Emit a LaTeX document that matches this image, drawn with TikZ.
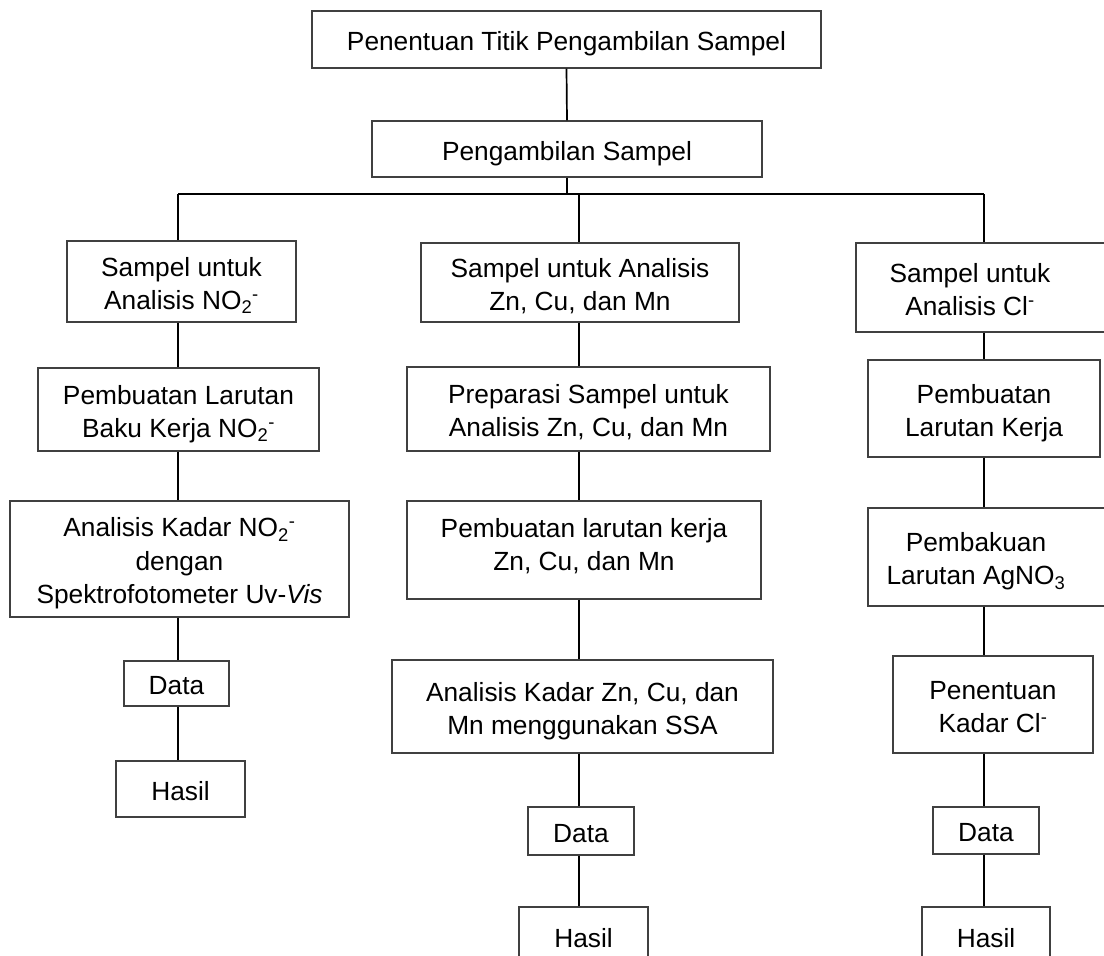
\documentclass[tikz,border=0pt]{standalone}
\usepackage{fontspec}
\setmainfont{Liberation Sans}
\newcommand{\mlines}[1]{\raisebox{-4.5pt}[\height][\depth]{\begin{tabular}{@{}c@{}}#1\end{tabular}}}
\newcommand{\NOtwo}{NO\textsubscript{2}\textsuperscript{-}}
\begin{document}
\begin{tikzpicture}[x=1pt,y=-1pt,
  box/.style={draw=black!75, line width=1.2pt, rectangle, inner sep=0pt,
    font=\fontsize{26.3}{33.3}\selectfont},
  conn/.style={line width=1.7pt, draw=black}]
\useasboundingbox (0,0) rectangle (1104,956);
\clip (0,0) rectangle (1104,956);
\fill[white] (0,0) rectangle (1104,956);

% top
\node[box, minimum width=509, minimum height=57] (T) at (566.5,39.5) {\mlines{Penentuan Titik Pengambilan Sampel}};
\node[box, minimum width=390, minimum height=56] (P) at (567,149) {\mlines{Pengambilan Sampel}};

% left column
\node[box, minimum width=229, minimum height=81] (L1) at (181.5,281.5) {\mlines{Sampel untuk\\Analisis \NOtwo}};
\node[box, minimum width=281, minimum height=83] (L2) at (178.5,409.5) {\mlines{Pembuatan Larutan\\Baku Kerja \NOtwo}};
\node[box, minimum width=339, minimum height=116] (L3) at (179.5,559) {\mlines{Analisis Kadar \NOtwo\\dengan\\Spektrofotometer Uv-\textit{Vis}}};
\node[box, minimum width=105, minimum height=45] (L4) at (176.5,683.5) {\mlines{Data}};
\node[box, minimum width=129, minimum height=56] (L5) at (180.5,789) {\mlines{Hasil}};

% middle column
\node[box, minimum width=318, minimum height=79] (M1) at (580,282.5) {\mlines{Sampel untuk Analisis\\Zn, Cu, dan Mn}};
\node[box, minimum width=363, minimum height=84] (M2) at (588.5,409) {\mlines{Preparasi Sampel untuk\\Analisis Zn, Cu, dan Mn}};
\node[box, minimum width=354, minimum height=98] (M3) at (584,550) {\mlines{Pembuatan larutan kerja\\Zn, Cu, dan Mn\\[14pt]}};
\node[box, minimum width=381, minimum height=93] (M4) at (582.5,706.5) {\mlines{Analisis Kadar Zn, Cu, dan\\Mn menggunakan SSA}};
\node[box, minimum width=106, minimum height=48] (M5) at (581,831) {\mlines{Data}};
\node[box, minimum width=129, minimum height=58] (M6) at (583.5,936) {\mlines{Hasil}};

% right column
\node[box, minimum width=254, minimum height=89] (R1) at (983,287.5) {\mlines{Sampel untuk\\Analisis Cl\textsuperscript{-}}\hspace*{26pt}};
\node[box, minimum width=232, minimum height=97] (R2) at (984,408.5) {\mlines{Pembuatan\\Larutan Kerja}};
\node[box, minimum width=242, minimum height=98] (R3) at (989,557) {\mlines{Pembakuan\\Larutan AgNO\textsubscript{3}}\hspace*{26pt}};
\node[box, minimum width=200, minimum height=97] (R4) at (993,704.5) {\mlines{Penentuan\\Kadar Cl\textsuperscript{-}}};
\node[box, minimum width=106, minimum height=47] (R5) at (986,830.5) {\mlines{Data}};
\node[box, minimum width=128, minimum height=58] (R6) at (986,936) {\mlines{Hasil}};

% column axes
\coordinate (hl) at (178,194);
\coordinate (hr) at (984,194);
\coordinate (cm) at (579,194);

% connectors
\draw[conn] (T.south) -- (P.north);
\draw[conn] (P.south) -- (P.south |- hl);
\draw[conn] (hl) -- (hr);
\draw[conn] (hl) -- (L1.north -| hl);
\draw[conn] (cm) -- (M1.north -| cm);
\draw[conn] (hr) -- (R1.north -| hr);

\draw[conn] (L1.south -| hl) -- (L2.north -| hl);
\draw[conn] (L2.south -| hl) -- (L3.north -| hl);
\draw[conn] (L3.south -| hl) -- (L4.north -| hl);
\draw[conn] (L4.south -| hl) -- (L5.north -| hl);

\draw[conn] (M1.south -| cm) -- (M2.north -| cm);
\draw[conn] (M2.south -| cm) -- (M3.north -| cm);
\draw[conn] (M3.south -| cm) -- (M4.north -| cm);
\draw[conn] (M4.south -| cm) -- (M5.north -| cm);
\draw[conn] (M5.south -| cm) -- (M6.north -| cm);

\draw[conn] (R1.south -| hr) -- (R2.north -| hr);
\draw[conn] (R2.south -| hr) -- (R3.north -| hr);
\draw[conn] (R3.south -| hr) -- (R4.north -| hr);
\draw[conn] (R4.south -| hr) -- (R5.north -| hr);
\draw[conn] (R5.south -| hr) -- (R6.north -| hr);
\end{tikzpicture}
\end{document}
